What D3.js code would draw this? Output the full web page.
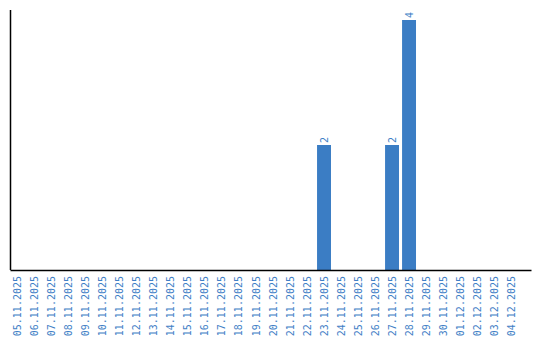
<!DOCTYPE html>
<html>
<head>
<meta charset="utf-8">
<script src="https://cdn.jsdelivr.net/npm/d3@7"></script>
<style>
  body { margin: 0; background: #fff; }
  svg { display: block; }
</style>
</head>
<body>
<div id="chart"></div>
<script>
const dates = ['05.11.2025', '06.11.2025', '07.11.2025', '08.11.2025', '09.11.2025', '10.11.2025',
    '11.11.2025', '12.11.2025', '13.11.2025', '14.11.2025', '15.11.2025', '16.11.2025',
    '17.11.2025', '18.11.2025', '19.11.2025', '20.11.2025', '21.11.2025', '22.11.2025',
    '23.11.2025', '24.11.2025', '25.11.2025', '26.11.2025', '27.11.2025', '28.11.2025',
    '29.11.2025', '30.11.2025', '01.12.2025', '02.12.2025', '03.12.2025', '04.12.2025'];
const counts = [0, 0, 0, 0, 0, 0, 0, 0, 0, 0, 0, 0, 0, 0, 0, 0, 0, 0,
    2, 0, 0, 0, 2, 4, 0, 0, 0, 0, 0, 0];

const width = 540;
const height = 340;
const margin = {top: 10, right: 9, bottom: 70, left: 10};
const barColor = '#3b7dc4';
const textColor = '#3f80c6';
const labelFont = '"DejaVu Sans Mono", monospace';

const data = dates.map((d, i) => ({date: d, count: counts[i]}));

const svg = d3.select('#chart').append('svg')
    .attr('width', width)
    .attr('height', height);

const x = d3.scaleBand()
    .domain(dates)
    .range([margin.left, width - margin.right])
    .paddingInner(0.18)
    .paddingOuter(0.41)
    .align(0.07);

const y = d3.scaleLinear()
    .domain([0, 4])
    .range([height - margin.bottom, 20]);

// bars
svg.selectAll('.bar')
    .data(data.filter(d => d.count > 0))
    .join('rect')
        .attr('class', 'bar')
        .attr('x', d => x(d.date))
        .attr('y', d => y(d.count))
        .attr('width', x.bandwidth())
        .attr('height', d => y(0) - y(d.count))
        .attr('fill', barColor);

// value labels
svg.selectAll('.value')
    .data(data.filter(d => d.count > 0))
    .join('text')
        .attr('class', 'value')
        .attr('transform', d => `translate(${x(d.date) + x.bandwidth() / 2}, ${y(d.count) - 2}) rotate(-90)`)
        .attr('dy', '0.35em')
        .attr('text-anchor', 'start')
        .attr('fill', textColor)
        .style('font-family', labelFont)
        .style('font-size', '10px')
        .text(d => d.count);

// x axis
const xAxis = svg.append('g')
    .attr('transform', `translate(0, ${y(0)})`)
    .call(d3.axisBottom(x).tickSize(0).tickSizeOuter(0).tickPadding(6));

xAxis.select('.domain')
    .attr('stroke', '#000')
    .attr('stroke-width', 1.5);

xAxis.selectAll('text')
    .attr('transform', 'rotate(-90)')
    .attr('text-anchor', 'end')
    .attr('x', -6)
    .attr('y', 0)
    .attr('dy', '0.35em')
    .attr('fill', textColor)
    .style('font-family', labelFont)
    .style('font-size', '10px');

// y axis line
svg.append('line')
    .attr('x1', margin.left + 0.5)
    .attr('x2', margin.left + 0.5)
    .attr('y1', margin.top)
    .attr('y2', y(0))
    .attr('stroke', '#000')
    .attr('stroke-width', 1.5);
</script>
</body>
</html>
